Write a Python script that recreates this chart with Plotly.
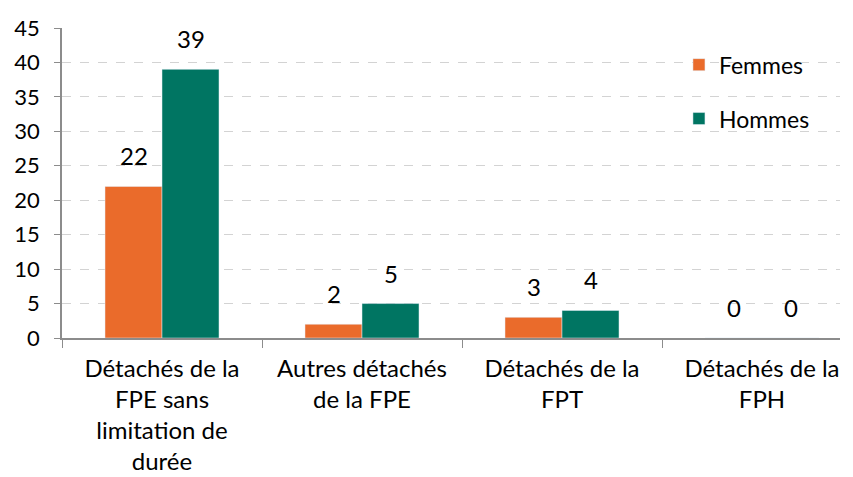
import plotly.graph_objects as go

categories = ["Détachés de la<br>FPE sans<br>limitation de<br>durée",
              "Autres détachés<br>de la FPE",
              "Détachés de la<br>FPT",
              "Détachés de la<br>FPH"]
femmes = [22, 2, 3, 0]
hommes = [39, 5, 4, 0]
y_ticks = [0, 5, 10, 15, 20, 25, 30, 35, 40, 45]

FONT = "Lato"
fig = go.Figure()
fig.add_trace(go.Bar(name="Femmes", x=categories, y=femmes, marker_color="#EA6B2B",
                     legendgroup="f"))
fig.add_trace(go.Bar(name="Hommes", x=categories, y=hommes, marker_color="#007562",
                     legendgroup="h"))

for vals, shift in ((femmes, -28.5), (hommes, 28.5)):
    for c, v in zip(categories, vals):
        fig.add_annotation(x=c, y=v, text=str(v), showarrow=False, xshift=shift,
                           yshift=14, yanchor="bottom", yref="y", xref="x",
                           font=dict(size=24, color="#000", family=FONT))

fig.update_layout(
    width=853, height=477,
    margin=dict(l=54, r=21, t=20, b=147, autoexpand=False),
    plot_bgcolor="white", paper_bgcolor="white",
    barmode="group", bargap=0.43, bargroupgap=0,
    font=dict(family=FONT, size=22, color="#000"),
    showlegend=True,
    legend=dict(x=0.793, y=0.951, xanchor="left", yanchor="top",
                font=dict(size=23), tracegroupgap=21, bgcolor="rgba(0,0,0,0)"),
)
fig.update_xaxes(range=[-0.5, 3.39], showline=True, linecolor="#8C8C8C", linewidth=1.5,
                 ticks="outside", tickson="boundaries", ticklen=8, tickcolor="#8C8C8C",
                 tickfont=dict(size=24), ticklabelstandoff=8, showgrid=False,
                 automargin=False)
fig.update_yaxes(range=[0, 45], tickvals=y_ticks, showline=True, linecolor="#8C8C8C",
                 linewidth=1.5, ticks="outside", ticklen=6, tickcolor="#8C8C8C",
                 tickfont=dict(size=22), ticklabelstandoff=10, showgrid=True,
                 gridcolor="#D3D3D3", griddash="dash", gridwidth=1, zeroline=False,
                 automargin=False)

fig.write_html("out.html")
